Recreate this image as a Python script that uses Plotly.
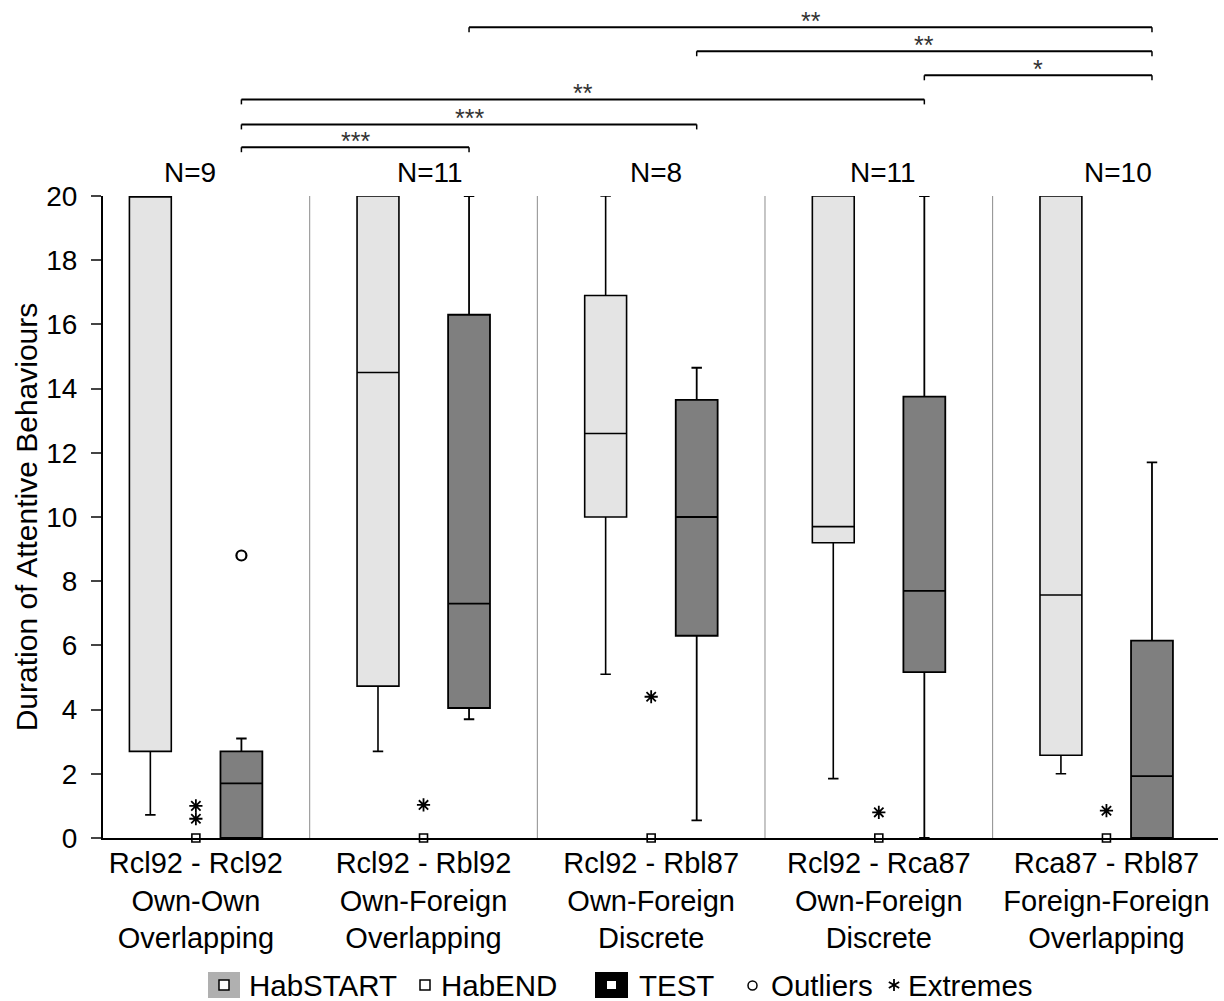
import plotly.graph_objects as go

groups = ["Rcl92 - Rcl92<br>Own-Own<br>Overlapping",
          "Rcl92 - Rbl92<br>Own-Foreign<br>Overlapping",
          "Rcl92 - Rbl87<br>Own-Foreign<br>Discrete",
          "Rcl92 - Rca87<br>Own-Foreign<br>Discrete",
          "Rca87 - Rbl87<br>Foreign-Foreign<br>Overlapping"]
n_labels = ["N=9", "N=11", "N=8", "N=11", "N=10"]

# HabSTART box stats
hs_low = [0.72, 2.7, 5.1, 1.85, 2.0]
hs_q1 = [2.7, 4.73, 10.0, 9.2, 2.58]
hs_med = [20.0, 14.5, 12.6, 9.7, 7.57]
hs_q3 = [20.0, 20.0, 16.9, 20.0, 20.0]
hs_up = [20.0, 20.0, 20.0, 20.0, 20.0]

# HabEND (all zero)
he_val = [0, 0, 0, 0, 0]

# TEST box stats
t_low = [0.0, 3.7, 0.55, 0.0, 0.0]
t_q1 = [0.0, 4.05, 6.3, 5.17, 0.0]
t_med = [1.7, 7.3, 10.0, 7.7, 1.93]
t_q3 = [2.7, 16.3, 13.65, 13.75, 6.15]
t_up = [3.1, 20.0, 14.65, 20.0, 11.7]

# outliers (TEST) and extremes (HabEND)
outlier_grp = [0]
outlier_val = [8.8]
extreme_grp = [0, 0, 1, 2, 3, 4]
extreme_val = [0.6, 1.0, 1.03, 4.4, 0.8, 0.85]

# significance brackets between TEST boxes
br_from = [1, 2, 3, 0, 0, 0]
br_to = [4, 4, 4, 3, 2, 1]
br_label = ["**", "**", "*", "**", "***", "***"]
br_level = [25.26, 24.51, 23.76, 23.01, 22.23, 21.52]

legend_names = ["HabSTART", "HabEND", "TEST", "Outliers", "Extremes"]

OFF = 0.2
BW = 0.184
YMAX = 20.0
FONT = "Liberation Sans, Arial, sans-serif"

# layout geometry (pixels)
W, H = 1224, 1001
ML, MR, MT, MB = 103, 6, 196, 163
PW, PH = W - ML - MR, H - MT - MB


def px(xp):
    return (xp - ML) / PW


def py(yp):
    return (H - MB - yp) / PH


fig = go.Figure()
xs = list(range(5))

fig.add_trace(go.Box(
    name="HabSTART", x=[i - OFF for i in xs],
    q1=hs_q1, median=hs_med, q3=hs_q3, lowerfence=hs_low, upperfence=hs_up,
    width=BW, whiskerwidth=0.25, boxpoints=False,
    fillcolor="#e4e4e4", line=dict(color="black", width=1.6),
))
fig.add_trace(go.Scatter(
    name="HabEND", x=xs, y=he_val, mode="markers", cliponaxis=False,
    marker=dict(symbol="square-open", size=8, color="black", line=dict(width=1.6)),
))
fig.add_trace(go.Box(
    name="TEST", x=[i + OFF for i in xs],
    q1=t_q1, median=t_med, q3=t_q3, lowerfence=t_low, upperfence=t_up,
    width=BW, whiskerwidth=0.25, boxpoints=False,
    fillcolor="#7f7f7f", line=dict(color="black", width=1.8),
))
fig.add_trace(go.Scatter(
    name="Outliers", x=[g + OFF for g in outlier_grp], y=outlier_val, mode="markers",
    marker=dict(symbol="circle-open", size=10, color="black", line=dict(width=2.2)),
))
fig.add_trace(go.Scatter(
    name="Extremes", x=extreme_grp, y=extreme_val, mode="markers",
    marker=dict(symbol="asterisk-open", size=11, color="black", line=dict(width=1.8)),
))

shapes = []
for b in [0.5, 1.5, 2.5, 3.5]:
    shapes.append(dict(type="line", xref="x", yref="y", x0=b, x1=b, y0=0, y1=20,
                       line=dict(color="#8c8c8c", width=1)))
annotations = []
n_shift = [-6, 6, 5, 4, 12]
for i, n in enumerate(n_labels):
    annotations.append(dict(x=i, y=20, xref="x", yref="y", text=n, showarrow=False,
                            xshift=n_shift[i], yanchor="bottom", yshift=6,
                            font=dict(size=28, family=FONT, color="black")))
for f, t, lab, lev in zip(br_from, br_to, br_label, br_level):
    x0, x1 = f + OFF, t + OFF
    yp = lev / YMAX
    tick = 5 / PH
    shapes.append(dict(type="line", xref="x", yref="paper", x0=x0, x1=x1, y0=yp, y1=yp,
                       line=dict(color="black", width=2)))
    for xx in (x0, x1):
        shapes.append(dict(type="line", xref="x", yref="paper", x0=xx, x1=xx, y0=yp, y1=yp - tick,
                           line=dict(color="black", width=1.5)))
    annotations.append(dict(x=(x0 + x1) / 2, y=yp, xref="x", yref="paper", text=lab, showarrow=False,
                            yanchor="bottom", yshift=-10, font=dict(size=25, family=FONT, color="#333")))

# manual legend
LY = 985
text_x = [247, 439, 637, 769, 906]
shapes.append(dict(type="rect", xref="paper", yref="paper", x0=px(208), x1=px(240), y0=py(998), y1=py(972),
                   fillcolor="#b0b0b0", line=dict(width=0)))
shapes.append(dict(type="rect", xref="paper", yref="paper", x0=px(219), x1=px(229), y0=py(990), y1=py(980),
                   fillcolor="white", line=dict(color="black", width=1.5)))
shapes.append(dict(type="rect", xref="paper", yref="paper", x0=px(420), x1=px(430), y0=py(990), y1=py(980),
                   fillcolor="white", line=dict(color="black", width=1.5)))
shapes.append(dict(type="rect", xref="paper", yref="paper", x0=px(595), x1=px(628), y0=py(998), y1=py(972),
                   fillcolor="black", line=dict(width=0)))
shapes.append(dict(type="rect", xref="paper", yref="paper", x0=px(607), x1=px(616), y0=py(989), y1=py(981),
                   fillcolor="white", line=dict(width=0)))
shapes.append(dict(type="circle", xref="paper", yref="paper", x0=px(748), x1=px(757), y0=py(990), y1=py(981),
                   fillcolor="white", line=dict(color="black", width=1.5)))
# asterisk icon for Extremes
ax_c, ay_c, r = 894, 985, 6
for dx, dy in [(0, r), (0.866 * r, 0.5 * r), (0.866 * r, -0.5 * r)]:
    shapes.append(dict(type="line", xref="paper", yref="paper",
                       x0=px(ax_c - dx), x1=px(ax_c + dx), y0=py(ay_c - dy), y1=py(ay_c + dy),
                       line=dict(color="black", width=1.8)))
for name, tx in zip(legend_names, text_x):
    annotations.append(dict(x=px(tx), y=py(LY), xref="paper", yref="paper", text=name, showarrow=False,
                            xanchor="left", yanchor="middle", font=dict(size=29.5, family=FONT, color="black")))

fig.update_layout(
    width=W, height=H,
    margin=dict(l=ML, r=MR, t=MT, b=MB, autoexpand=False),
    paper_bgcolor="white", plot_bgcolor="white",
    font=dict(family=FONT, size=28, color="black"),
    showlegend=False,
    shapes=shapes, annotations=annotations,
    boxmode="overlay",
)
fig.update_xaxes(range=[-0.408, 4.49], tickmode="array", tickvals=xs, ticktext=groups,
                 showline=True, linecolor="black", linewidth=2, ticks="", showgrid=False,
                 zeroline=False, tickfont=dict(size=29, family=FONT), ticklabelstandoff=-2,
                 automargin=False)
fig.update_yaxes(range=[0, YMAX], tickvals=list(range(0, 21, 2)), showline=True,
                 linecolor="black", linewidth=2, ticks="outside", ticklen=10, tickwidth=1.5,
                 showgrid=False, zeroline=False, tickfont=dict(size=28, family=FONT),
                 ticklabelstandoff=8, automargin=False,
                 title=dict(text="Duration of Attentive Behaviours", font=dict(size=30, family=FONT), standoff=0))

fig.write_html("out.html", config={"displayModeBar": False},
               post_script="document.body.style.margin='0';document.body.style.overflow='hidden';")
